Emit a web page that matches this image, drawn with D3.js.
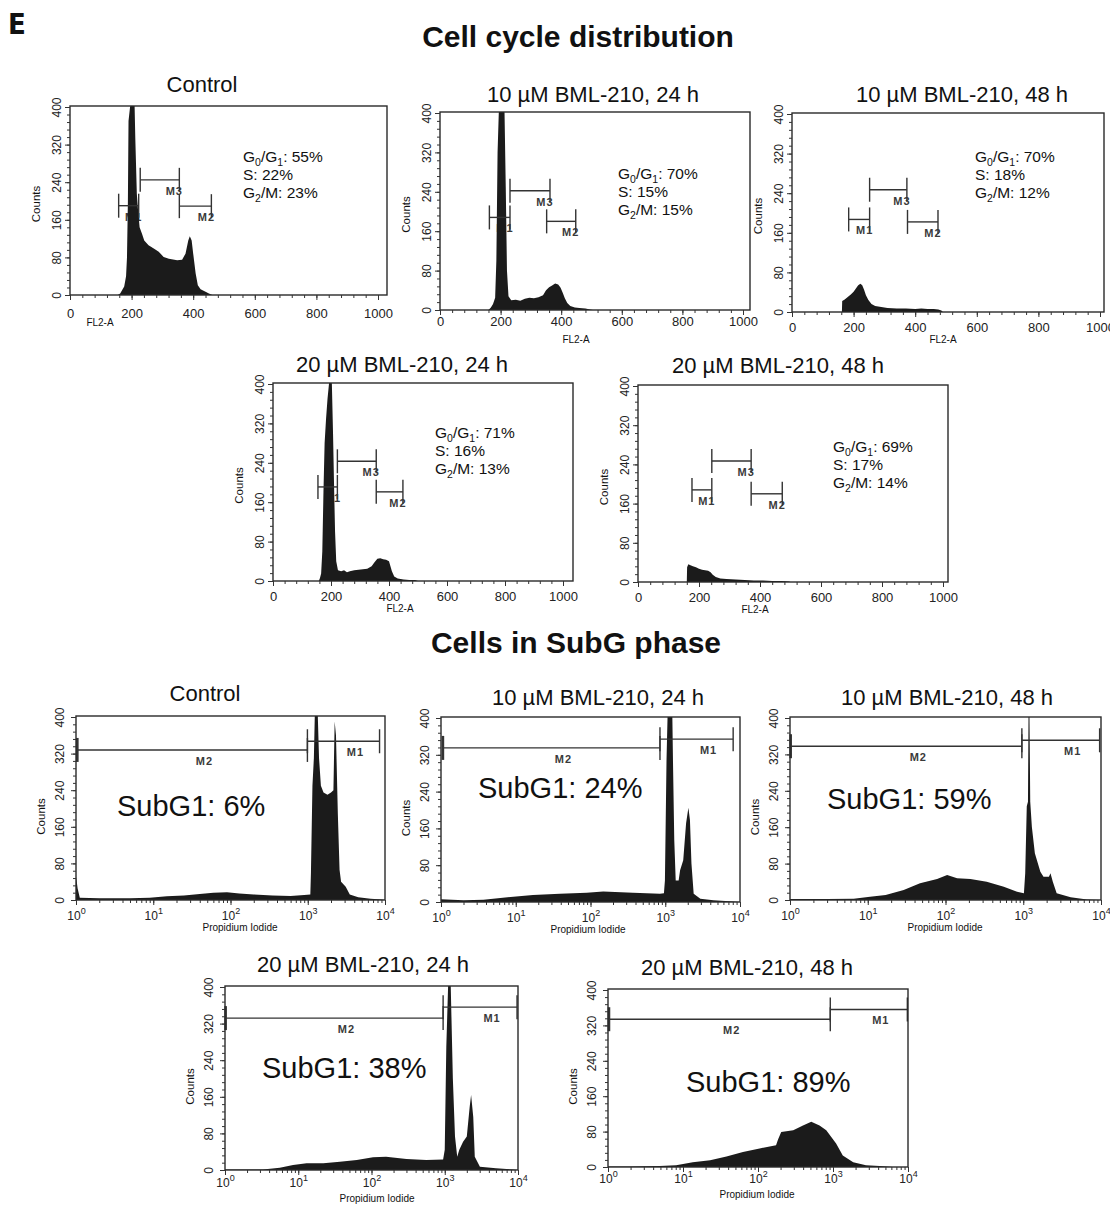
<!DOCTYPE html>
<html lang="en">
<head>
<meta charset="UTF-8">
<style>
  body { margin: 0; background: #fff; }
  svg text { font-family: "Liberation Sans", Arial, Helvetica, sans-serif; fill: #111; }
  .mark { font-size: 11px; font-weight: bold; fill: #3a3a3a; letter-spacing: 1px; }
</style>
<script src="https://cdn.jsdelivr.net/npm/d3@7"></script>
</head>
<body>
<div id="fig"></div>
<script>
// ---------- data ----------
const cycleTitles = ["Control", "10 µM BML-210, 24 h", "10 µM BML-210, 48 h", "20 µM BML-210, 24 h", "20 µM BML-210, 48 h"];
const subgTitles = cycleTitles;
// G0/G1, S, G2/M (%)
const cyclePhases = [[55, 22, 23], [70, 15, 15], [70, 18, 12], [71, 16, 13], [69, 17, 14]];
const subg1Pct = [6, 24, 59, 38, 89];

const countTicks = [0, 80, 160, 240, 320, 400];
const fl2Ticks = [0, 200, 400, 600, 800, 1000];
const piTicks = [1, 10, 100, 1000, 10000];

// FL2-A channel, counts
const cycleCtrl = [[155,0],[163,3],[176,18],[182,40],[185,80],[188,200],[190,370],[195,400],[201,425],[209,425],[212,334],[217,215],[221,180],[226,144],[234,130],[241,116],[255,106],[272,99],[288,92],[304,81],[321,77],[348,74],[364,75],[375,88],[384,116],[389,125],[395,116],[400,88],[408,46],[415,21],[424,12],[440,7],[451,3],[462,0]];
const cycle10h24 = [[160,0],[168,5],[175,12],[182,25],[186,100],[190,320],[194,400],[198,430],[203,440],[208,430],[213,400],[217,250],[221,80],[226,28],[235,20],[250,21],[265,19],[280,23],[295,25],[310,24],[325,26],[340,30],[350,40],[360,46],[370,50],[380,54],[390,52],[398,45],[405,35],[412,24],[420,14],[430,8],[445,5],[460,4],[480,3],[495,1],[505,0]];
const cycle10h48 = [[162,0],[163,22],[170,25],[180,30],[190,35],[200,41],[208,48],[215,54],[222,57],[228,54],[234,45],[240,34],[248,24],[258,16],[270,12],[290,10],[310,8],[340,7],[370,7],[400,6],[420,7],[440,6],[460,6],[475,5],[485,3],[490,0]];
const cycle20h24 = [[158,0],[162,6],[166,15],[170,60],[174,180],[178,280],[183,330],[188,370],[193,400],[198,420],[203,400],[207,300],[211,180],[214,100],[218,40],[224,22],[235,20],[245,22],[255,18],[265,20],[280,22],[295,23],[310,24],[325,25],[340,30],[350,38],[360,45],[370,46],[380,44],[390,43],[400,40],[405,30],[410,20],[418,9],[430,5],[450,3],[470,2],[490,2],[500,0]];
const cycle20h48 = [[160,0],[161,30],[165,36],[172,34],[180,32],[190,30],[200,27],[210,25],[220,24],[230,23],[238,20],[245,15],[255,10],[270,7],[290,6],[320,5],[350,4],[380,3],[410,3],[440,2],[470,2],[495,1],[500,0]];

// Propidium iodide intensity, counts
const subgCtrl = [[1,52],[1.05,25],[1.12,5],[2,4],[5,4],[9,5],[15,8],[25,10],[40,13],[60,16],[90,17],[130,14],[200,12],[350,10],[600,9],[900,11],[1080,12],[1100,60],[1150,250],[1200,310],[1240,420],[1340,420],[1400,310],[1480,250],[1600,235],[1800,230],[2000,235],[2150,240],[2230,390],[2320,360],[2450,190],[2580,66],[2700,40],[3100,29],[3500,12],[4500,6],[6500,3],[9000,1],[10000,0]];
const subg10h24 = [[1,6],[2,4],[3.7,5],[8.5,11],[17,15],[39,18],[89,20],[148,23],[370,20],[850,18],[960,19],[990,47],[1040,309],[1080,420],[1240,420],[1270,302],[1320,135],[1380,47],[1510,47],[1580,69],[1740,91],[1900,171],[2040,205],[2140,178],[2240,84],[2400,18],[2950,7],[4400,4],[8100,1],[10000,0]];
const subg10h48 = [[1,2],[3,2],[6.6,3],[10.7,7],[17,11],[29,22],[47,37],[78,46],[105,55],[141,48],[209,46],[339,40],[562,29],[832,18],[1020,15],[1060,59],[1110,206],[1150,216],[1170,420],[1200,420],[1230,216],[1290,161],[1410,103],[1660,62],[1820,51],[2140,51],[2240,59],[2400,40],[2690,15],[4070,6],[6600,1],[10000,0]];
const subg20h24 = [[1,1],[3.3,1],[5.6,5],[8.5,11],[13,15],[22,15],[37,18],[63,22],[105,28],[158,29],[300,24],[560,22],[950,23],[1000,44],[1050,269],[1120,420],[1200,420],[1290,200],[1380,73],[1480,29],[1580,44],[1780,62],[2000,73],[2190,138],[2290,164],[2450,116],[2570,29],[3020,7],[5000,4],[8500,1],[10000,0]];
const subg20h48 = [[1,1],[2,1],[4.9,2],[8.1,4],[13.5,11],[23,15],[38,24],[63,34],[105,42],[174,49],[185,62],[204,79],[295,83],[398,94],[513,102],[661,94],[813,83],[1100,53],[1350,26],[1860,11],[2750,4],[4170,2],[6300,0],[10000,0]];

// gates: [name, from, to, count level]
const cycleGates = [
  [["M1",158,223,190],["M3",228,355,245],["M2",355,459,189]],
  [["M1",163,231,188],["M3",231,363,242],["M2",352,448,180]],
  [["M1",184,252,187],["M3",252,373,247],["M2",375,474,182]],
  [["M1",155,222,191],["M3",222,356,243],["M2",356,448,181]],
  [["M1",177,242,188],["M3",242,371,247],["M2",371,473,180]]
];
const subgGates = [
  [["M2",1.04,990,328],["M1",990,8500,347]],
  [["M2",1.06,850,335],["M1",850,8100,354]],
  [["M2",1.02,960,338],["M1",960,9600,351]],
  [["M2",1.02,950,332],["M1",950,9700,356]],
  [["M2",1.03,920,334],["M1",920,9800,356]]
];
const cycleHists = [cycleCtrl, cycle10h24, cycle10h48, cycle20h24, cycle20h48];
const subgHists = [subgCtrl, subg10h24, subg10h48, subg20h24, subg20h48];

// ---------- layout ----------
const cycleLayout = [
  {x0:70,  x1:378,  right:387,  y0:295, y1:107, tx:202, ty:92,  nx:243, ny:162, lx:100, ly:326, tdy:23},
  {x0:440, x1:743,  right:750,  y0:310, y1:113, tx:593, ty:102, nx:618, ny:179, lx:576, ly:343, tdy:16},
  {x0:792, x1:1100, right:1104, y0:312, y1:114, tx:962, ty:102, nx:975, ny:162, lx:943, ly:343, tdy:20},
  {x0:273, x1:563,  right:573,  y0:581, y1:384, tx:402, ty:372, nx:435, ny:438, lx:400, ly:612, tdy:20},
  {x0:638, x1:943,  right:948,  y0:582, y1:386, tx:778, ty:373, nx:833, ny:452, lx:755, ly:613, tdy:20}
];
const subgLayout = [
  {x0:76,  x1:385,  y0:900,  y1:717, tx:205, ty:701, nx:117, ny:816,  lx:240, ly:931,  tdy:20},
  {x0:441, x1:740,  y0:902,  y1:718, tx:598, ty:705, nx:478, ny:798,  lx:588, ly:933,  tdy:20},
  {x0:790, x1:1101, y0:900,  y1:718, tx:947, ty:705, nx:827, ny:809,  lx:945, ly:931,  tdy:20},
  {x0:225, x1:518,  y0:1170, y1:987, tx:363, ty:972, nx:262, ny:1078, lx:377, ly:1202, tdy:17},
  {x0:608, x1:908,  y0:1167, y1:990, tx:747, ty:975, nx:686, ny:1092, lx:757, ly:1198, tdy:16}
];

const svg = d3.select("#fig").append("svg")
  .attr("width", 1110).attr("height", 1205);

svg.append("text").attr("x", 8).attr("y", 34)
  .style("font-family", "'Liberation Sans Narrow', 'DejaVu Sans Condensed', Arial, sans-serif")
  .style("font-weight", "bold").style("font-size", "29px").text("E");
svg.append("text").attr("x", 578).attr("y", 47).attr("text-anchor", "middle")
  .style("font-weight", "bold").style("font-size", "30px").text("Cell cycle distribution");
svg.append("text").attr("x", 576).attr("y", 653).attr("text-anchor", "middle")
  .style("font-weight", "bold").style("font-size", "30px").text("Cells in SubG phase");

function yAxis(g, y, x0, gap) {
  g.append("g").attr("transform", `translate(${x0},0)`)
    .call(d3.axisLeft(y).tickValues(d3.range(0, 401, 16)).tickSize(3).tickFormat(""))
    .call(a => a.select(".domain").remove());
  const maj = g.append("g").attr("transform", `translate(${x0},0)`)
    .call(d3.axisLeft(y).tickValues(countTicks).tickSize(5))
    .call(a => a.select(".domain").remove());
  maj.selectAll("text")
    .attr("transform", "rotate(-90)").attr("x", 0).attr("y", -gap).attr("dy", 0)
    .attr("text-anchor", "middle").style("font-size", "12px").style("fill", "#222");
  g.selectAll("line").attr("stroke", "#333");
}

function panelBase(L, idx, titles, prefix) {
  const g = svg.append("g");
  g.append("clipPath").attr("id", prefix + idx)
    .append("rect").attr("x", L.x0).attr("y", L.y1 - 1)
    .attr("width", (L.right || L.x1) - L.x0).attr("height", L.y0 - L.y1 + 1);
  g.append("text").attr("x", L.tx).attr("y", L.ty).attr("text-anchor", "middle")
    .style("font-size", "22px").text(titles[idx]);
  return g;
}

function drawGateLabels(g, gates, xs, ys, pos) {
  gates.forEach(m => {
    g.append("text").attr("class", "mark")
      .attr("x", pos(m)).attr("y", ys(m[3]) + 15)
      .attr("text-anchor", "middle").text(m[0]);
  });
}
function drawGateLines(g, gates, xs, ys) {
  gates.forEach(m => {
    const yy = ys(m[3]);
    g.append("line").attr("x1", xs(m[1])).attr("x2", xs(m[2])).attr("y1", yy).attr("y2", yy)
      .attr("stroke", "#333").attr("stroke-width", 1.4);
    [m[1], m[2]].forEach(v => {
      g.append("line").attr("x1", xs(v)).attr("x2", xs(v)).attr("y1", yy - 12).attr("y2", yy + 12)
        .attr("stroke", "#333").attr("stroke-width", v < 1.1 ? 2.6 : 1.4);
    });
  });
}

// ---------- cell cycle panels ----------
cycleLayout.forEach((L, i) => {
  const g = panelBase(L, i, cycleTitles, "cc");
  const x = d3.scaleLinear().domain([0, 1000]).range([L.x0, L.x1]);
  const y = d3.scaleLinear().domain([0, 400]).range([L.y0, L.y1]);

  drawGateLabels(g, cycleGates[i], x, y, m => x(m[2]) - 5);

  const area = d3.area().x(d => x(d[0])).y0(y(0)).y1(d => y(d[1]));
  g.append("path").datum(cycleHists[i]).attr("d", area)
    .attr("fill", "#1b1b1b").attr("clip-path", `url(#cc${i})`);

  drawGateLines(g, cycleGates[i], x, y);

  g.append("rect").attr("x", L.x0).attr("y", L.y1 - 1)
    .attr("width", L.right - L.x0).attr("height", L.y0 - L.y1 + 1)
    .attr("fill", "none").attr("stroke", "#2a2a2a").attr("stroke-width", 1.4);

  yAxis(g, y, L.x0, 9);
  g.append("g").attr("transform", `translate(0,${L.y0})`)
    .call(d3.axisBottom(x).tickValues(d3.range(0, 1001, 40)).tickSize(3).tickFormat(""))
    .call(a => a.select(".domain").remove());
  const xa = g.append("g").attr("transform", `translate(0,${L.y0})`)
    .call(d3.axisBottom(x).tickValues(fl2Ticks).tickSize(5).tickFormat(d3.format("d")))
    .call(a => a.select(".domain").remove());
  xa.selectAll("text").attr("y", L.tdy).attr("dy", 0).style("font-size", "13px").style("fill", "#222");
  g.selectAll("line").attr("stroke", "#333");

  g.append("text").attr("x", L.x0 - 33).attr("y", (L.y0 + L.y1) / 2)
    .attr("transform", `rotate(-90,${L.x0 - 30},${(L.y0 + L.y1) / 2})`)
    .attr("text-anchor", "middle").style("font-size", "11.5px").text("Counts");
  g.append("text").attr("x", L.lx).attr("y", L.ly).attr("text-anchor", "middle")
    .style("font-size", "10px").text("FL2-A");

  // phase percentages
  const p = cyclePhases[i];
  const lines = [
    [["G"], ["0", 1], ["/G"], ["1", 1], [": " + p[0] + "%"]],
    [["S: " + p[1] + "%"]],
    [["G"], ["2", 1], ["/M: " + p[2] + "%"]]
  ];
  lines.forEach((parts, k) => {
    const t = g.append("text").attr("x", L.nx).attr("y", L.ny + k * 18).style("font-size", "15.5px");
    let shifted = false;
    parts.forEach(pt => {
      const s = t.append("tspan").text(pt[0]);
      if (pt[1]) { s.style("font-size", "10.5px").attr("dy", shifted ? 0 : 4); shifted = true; }
      else if (shifted) { s.attr("dy", -4); shifted = false; }
    });
  });
});

// ---------- SubG panels ----------
subgLayout.forEach((L, i) => {
  const g = panelBase(L, i, subgTitles, "sg");
  const x = d3.scaleLog().domain([1, 10000]).range([L.x0, L.x1]);
  const y = d3.scaleLinear().domain([0, 400]).range([L.y0, L.y1]);

  drawGateLabels(g, subgGates[i], x, y, m => (x(m[1]) + x(m[2])) / 2 + 12);

  const area = d3.area().x(d => x(d[0])).y0(y(0)).y1(d => y(d[1]));
  g.append("path").datum(subgHists[i]).attr("d", area)
    .attr("fill", "#1b1b1b").attr("clip-path", `url(#sg${i})`);

  drawGateLines(g, subgGates[i], x, y);

  g.append("rect").attr("x", L.x0).attr("y", L.y1 - 1)
    .attr("width", L.x1 - L.x0).attr("height", L.y0 - L.y1 + 1)
    .attr("fill", "none").attr("stroke", "#2a2a2a").attr("stroke-width", 1.4);

  yAxis(g, y, L.x0, 12);
  g.append("g").attr("transform", `translate(0,${L.y0})`)
    .call(d3.axisBottom(x).tickValues(x.ticks()).tickSize(3).tickFormat(""))
    .call(a => a.select(".domain").remove());
  const xa = g.append("g").attr("transform", `translate(0,${L.y0})`)
    .call(d3.axisBottom(x).tickValues(piTicks).tickSize(5).tickFormat(""))
    .call(a => a.select(".domain").remove());
  xa.selectAll(".tick").each(function (v) {
    const t = d3.select(this).append("text").attr("y", L.tdy).attr("text-anchor", "middle")
      .style("font-size", "12px").style("fill", "#222");
    t.append("tspan").text("10");
    t.append("tspan").attr("dy", -6).style("font-size", "9px").text(Math.round(Math.log10(v)));
  });
  g.selectAll("line").attr("stroke", "#333");

  g.append("text").attr("x", L.x0 - 34).attr("y", (L.y0 + L.y1) / 2 + 5)
    .attr("transform", `rotate(-90,${L.x0 - 31},${(L.y0 + L.y1) / 2 + 5})`)
    .attr("text-anchor", "middle").style("font-size", "11.5px").text("Counts");
  g.append("text").attr("x", L.lx).attr("y", L.ly).attr("text-anchor", "middle")
    .style("font-size", "10px").text("Propidium Iodide");

  g.append("text").attr("x", L.nx).attr("y", L.ny).style("font-size", "29px")
    .text("SubG1: " + subg1Pct[i] + "%");
});
</script>
</body>
</html>
